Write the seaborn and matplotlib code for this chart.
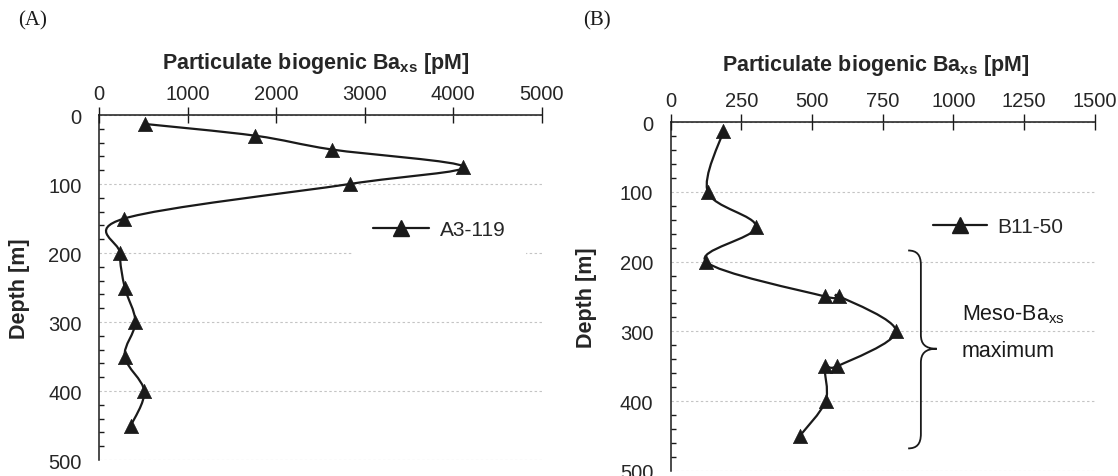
import numpy as np
import matplotlib
matplotlib.use("Agg")
import matplotlib.pyplot as plt
from matplotlib.path import Path
from matplotlib.patches import PathPatch
from matplotlib.lines import Line2D
from matplotlib.ticker import MultipleLocator
import pandas as pd
import seaborn as sns

# panel A, station A3 cast 119
depth_a = [13, 30, 50, 75, 100, 150, 200, 250, 300, 350, 400, 450]
ba_a = [520, 1765, 2630, 4115, 2830, 285, 235, 290, 410, 290, 510, 360]

# panel B, station B11 cast 50 (in the order the curve runs through them)
depth_b = [13, 100, 150, 200, 250, 250, 300, 350, 350, 400, 450]
ba_b = [186, 131, 302, 125, 546, 597, 797, 590, 546, 548, 457]

xticks_a = [0, 1000, 2000, 3000, 4000, 5000]
xticks_b = [0, 250, 500, 750, 1000, 1250, 1500]
yticks = [0, 100, 200, 300, 400, 500]

INK = '#1a1a1a'

sns.set_style("white")
plt.rcParams['font.family'] = ['Liberation Sans', 'DejaVu Sans']
plt.rcParams['mathtext.fontset'] = 'custom'
plt.rcParams['mathtext.rm'] = 'Liberation Sans'
plt.rcParams['mathtext.it'] = 'Liberation Sans'
plt.rcParams['mathtext.bf'] = 'Liberation Sans:bold'


def smooth_path(x, y):
    # Excel-style smoothed line: Catmull-Rom segments as cubic Bezier
    pts = np.column_stack([x, y]).astype(float)
    ext = np.vstack([pts[0], pts, pts[-1]])
    verts = [pts[0]]
    codes = [Path.MOVETO]
    for i in range(1, len(ext) - 2):
        p0, p1, p2, p3 = ext[i - 1], ext[i], ext[i + 1], ext[i + 2]
        verts += [p1 + (p2 - p0) / 6, p2 - (p3 - p1) / 6, p2]
        codes += [Path.CURVE4] * 3
    return Path(verts, codes)


def draw_panel(ax, x, y, xticks, xmax, title_xy, ylabel_x):
    ax.add_patch(PathPatch(smooth_path(x, y), facecolor='none',
                           edgecolor=INK, lw=1.6, zorder=3))
    df = pd.DataFrame({'ba': x, 'depth': y})
    sns.scatterplot(data=df, x='ba', y='depth', marker='^', s=105,
                    color=INK, edgecolor=INK, linewidth=0.5, ax=ax, zorder=4)
    ax.set_xlim(0, xmax)
    ax.set_ylim(500, 0)
    ax.set_xticks(xticks)
    ax.set_yticks(yticks)
    ax.yaxis.set_minor_locator(MultipleLocator(20))
    ax.xaxis.tick_top()
    ax.xaxis.set_label_position('top')
    ax.set_xlabel(r'Particulate biogenic Ba$_{\mathbf{xs}}$ [pM]',
                  fontsize=15.5, fontweight='bold')
    ax.xaxis.set_label_coords(*title_xy)
    ax.set_ylabel('Depth [m]', fontsize=15.5, fontweight='bold')
    ax.yaxis.set_label_coords(ylabel_x, 0.5)
    for s in ['right', 'bottom']:
        ax.spines[s].set_visible(False)
    for s in ['left', 'top']:
        ax.spines[s].set_color(INK)
        ax.spines[s].set_linewidth(1.1)
    ax.tick_params(axis='x', which='major', direction='inout', length=11,
                   width=1.0, labelsize=14.5, color=INK, pad=3)
    ax.tick_params(axis='y', which='major', direction='out', length=5.5,
                   width=1.0, labelsize=14.5, color=INK, pad=7)
    ax.tick_params(axis='y', which='minor', direction='in', length=3.5,
                   width=1.0, color=INK, left=True)
    ax.grid(axis='y', which='major', ls=(0, (2.2, 2.2)), color='#c4c4c4', lw=0.8)
    ax.grid(axis='x', visible=False)
    ax.set_axisbelow(True)
    return Line2D([], [], color=INK, lw=1.6, marker='^', markersize=11)


fig = plt.figure(figsize=(11.18, 4.77), dpi=100)
ax_a = fig.add_axes([0.0886, 0.0335, 0.3959, 0.7233])
ax_b = fig.add_axes([0.5999, 0.0111, 0.3793, 0.7305])

h_a = draw_panel(ax_a, ba_a, depth_a, xticks_a, 5000, (0.49, 1.135), -0.156)
h_b = draw_panel(ax_b, ba_b, depth_b, xticks_b, 1500, (0.484, 1.151), -0.173)

ax_a.legend([h_a], ['A3-119'], loc='center left', bbox_to_anchor=(0.5715, 0.667),
            borderaxespad=0, frameon=True, facecolor='white', edgecolor='none',
            framealpha=1, fancybox=False, fontsize=15, handlelength=2.7,
            handletextpad=0.5, borderpad=1.0)
ax_b.legend([h_b], ['B11-50'], loc='center left', bbox_to_anchor=(0.569, 0.70),
            borderaxespad=0, frameon=True, facecolor='white', edgecolor='none',
            framealpha=1, fancybox=False, fontsize=15, handlelength=2.6,
            handletextpad=0.5, borderpad=1.0)

# curly bracket marking the mesopelagic maximum in panel B
brace = Path(
    [(840, 184), (870, 184), (885, 190), (885, 205),
     (885, 305),
     (885, 318), (900, 325), (941, 325),
     (900, 325), (885, 332), (885, 345),
     (885, 447),
     (885, 462), (870, 468), (840, 468)],
    [Path.MOVETO, Path.CURVE4, Path.CURVE4, Path.CURVE4,
     Path.LINETO,
     Path.CURVE4, Path.CURVE4, Path.CURVE4,
     Path.CURVE4, Path.CURVE4, Path.CURVE4,
     Path.LINETO,
     Path.CURVE4, Path.CURVE4, Path.CURVE4])
ax_b.add_patch(PathPatch(brace, facecolor='none', edgecolor=INK, lw=1.3,
                         zorder=6, clip_on=False))
ax_b.text(1029, 283, r'Meso-Ba$_{\mathrm{xs}}$', fontsize=15.5,
          ha='left', va='baseline', color=INK)
ax_b.text(1029, 336, 'maximum', fontsize=15.5, ha='left', va='baseline',
          color=INK)

fig.text(18 / 1118, 1 - 21 / 477, '(A)', fontsize=15, family='Liberation Serif',
         va='center', color=INK)
fig.text(583 / 1118, 1 - 21 / 477, '(B)', fontsize=15, family='Liberation Serif',
         va='center', color=INK)

fig.savefig('out.png', dpi=100)
